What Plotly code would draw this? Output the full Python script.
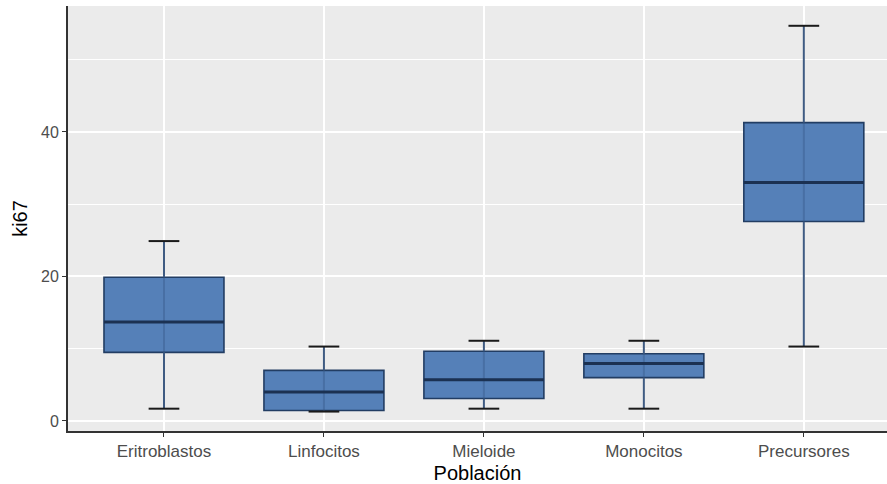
import plotly.graph_objects as go

categories = ["Eritroblastos", "Linfocitos", "Mieloide", "Monocitos", "Precursores"]
lower = [1.7, 1.3, 1.7, 1.7, 10.3]
q1 = [9.5, 1.45, 3.1, 6.0, 27.6]
median = [13.7, 4.0, 5.7, 7.95, 33.0]
q3 = [19.9, 7.0, 9.65, 9.3, 41.3]
upper = [24.9, 10.3, 11.1, 11.1, 54.7]

y_ticks = [0, 20, 40]

box_w = 0.75
cap_half = 0.096
xs = list(range(len(categories)))

fig = go.Figure()

fig.add_trace(go.Box(
    x=xs, q1=q1, median=median, q3=q3, lowerfence=q1, upperfence=q3,
    width=box_w, fillcolor="rgba(79,124,182,0.97)",
    line=dict(color="#223d63", width=1.6), showlegend=False, hoverinfo="skip"))

def seg(xa, xb, ya, yb):
    X, Y = [], []
    for a, b, c, d in zip(xa, xb, ya, yb):
        X += [a, b, None]
        Y += [c, d, None]
    return X, Y

X, Y = seg(xs, xs, lower, q1)
X2, Y2 = seg(xs, xs, q3, upper)
fig.add_trace(go.Scatter(x=X + X2, y=Y + Y2, mode="lines",
                         line=dict(color="#3f5b82", width=2), showlegend=False, hoverinfo="skip"))
X, Y = seg(xs, xs, q1, q3)
fig.add_trace(go.Scatter(x=X, y=Y, mode="lines",
                         line=dict(color="rgba(50,80,125,0.35)", width=2), showlegend=False, hoverinfo="skip"))
xl = [i - cap_half for i in xs]
xr = [i + cap_half for i in xs]
X, Y = seg(xl, xr, lower, lower)
X2, Y2 = seg(xl, xr, upper, upper)
fig.add_trace(go.Scatter(x=X + X2, y=Y + Y2, mode="lines",
                         line=dict(color="#1a1a1a", width=2), showlegend=False, hoverinfo="skip"))
ml = [i - box_w / 2 for i in xs]
mr = [i + box_w / 2 for i in xs]
X, Y = seg(ml, mr, median, median)
fig.add_trace(go.Scatter(x=X, y=Y, mode="lines",
                         line=dict(color="#1b3152", width=3), showlegend=False, hoverinfo="skip"))

font_fam = "Liberation Sans, Arial, sans-serif"
fig.update_layout(
    width=887, height=484,
    margin=dict(l=68, r=0, t=6, b=53),
    paper_bgcolor="white", plot_bgcolor="#EBEBEB",
    font=dict(family=font_fam),
    xaxis=dict(
        range=[-0.6, 4.52], tickmode="array", tickvals=xs, ticktext=categories,
        showgrid=True, gridcolor="white", gridwidth=1.5, zeroline=False,
        showline=True, linecolor="#333333", linewidth=1.8,
        ticks="outside", ticklen=4, tickcolor="#333333", tickwidth=1.2,
        tickfont=dict(size=17, color="#4d4d4d"),
        title=dict(text="Población", font=dict(size=20, color="black"), standoff=9),
        automargin=False),
    yaxis=dict(
        range=[-1.39, 57.44], tickmode="array", tickvals=y_ticks,
        showgrid=True, gridcolor="white", gridwidth=1.5, zeroline=False,
        minor=dict(dtick=10, tick0=0, showgrid=True, gridcolor="white", gridwidth=0.7),
        showline=True, linecolor="#333333", linewidth=1.8,
        ticks="outside", ticklen=4, tickcolor="#333333", tickwidth=1.2,
        tickfont=dict(size=16, color="#4d4d4d"),
        title=dict(text="ki67", font=dict(size=20, color="black"), standoff=8),
        automargin=False),
)

fig.write_html("out.html", config={"displayModeBar": False},
               post_script="document.body.style.margin='0';")
